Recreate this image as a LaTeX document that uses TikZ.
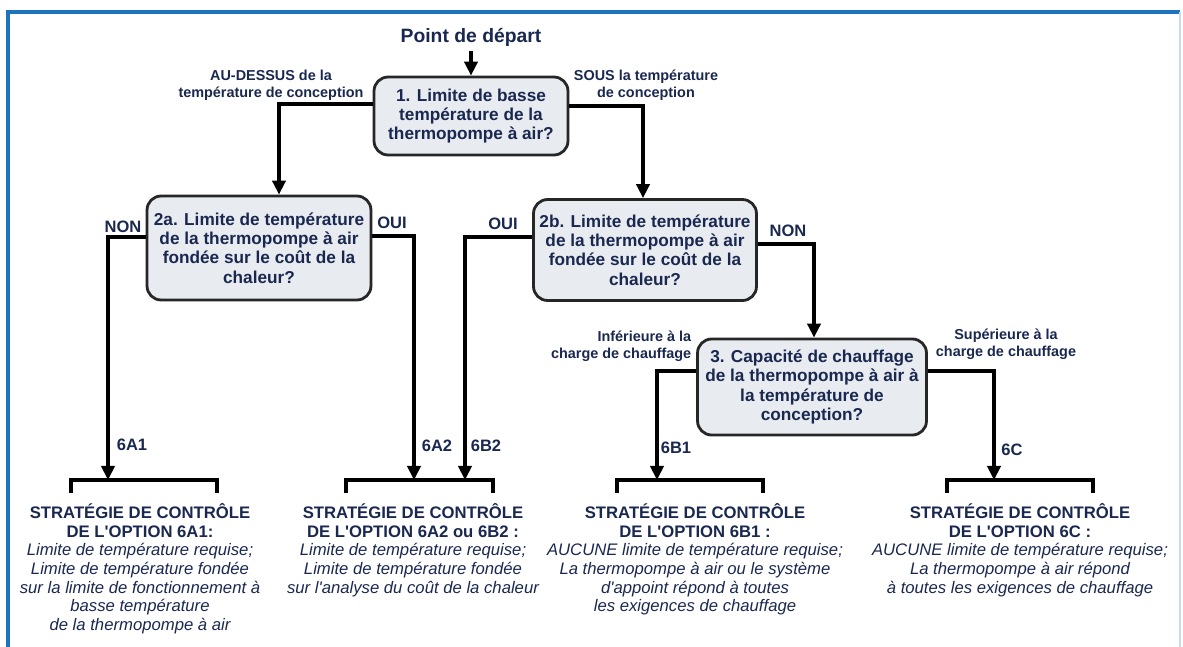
\documentclass[tikz,border=0pt]{standalone}
\usepackage{fontspec}
\setmainfont{Liberation Sans}
\usepackage{tikz}
\usetikzlibrary{arrows.meta}
\definecolor{myframe}{HTML}{1E73BE}
\definecolor{mytext}{HTML}{1A2850}
\definecolor{myfill}{HTML}{E8EBF0}

\begin{document}
\begin{tikzpicture}[x=0.02cm,y=-0.02cm,>={Triangle[length=8pt,width=7.5pt]},line width=2pt,
  question node/.style={rectangle,rounded corners=8pt,draw=black!85,line width=1.6pt,fill=myfill,
    text=mytext,font=\bfseries\fontsize{9.8}{11}\selectfont,align=center,inner sep=0pt},
  choice label/.style={text=mytext,font=\bfseries\fontsize{9.4}{11}\selectfont,inner sep=0pt},
  cond label/.style={text=mytext,font=\bfseries\fontsize{8.2}{9.6}\selectfont,align=center,inner sep=0pt},
  strategy node/.style={text=mytext,font=\fontsize{9.5}{10.6}\selectfont,align=center,anchor=north,inner sep=0pt}]

\useasboundingbox (0,0) rectangle (1183,646);

% frame
\draw[myframe,line width=1.8pt] (8,660) -- (8,12) -- (1180,12);
\draw[myframe!25,line width=0.6pt] (1180,12) -- (1180,660);

\node[text=mytext,font=\bfseries\fontsize{11}{12}\selectfont,inner sep=0pt] (start) at (471,37) {Point de départ};

\node[question node,minimum width=3.88cm,minimum height=1.56cm] (q1) at (471,116)
  {1. Limite de basse\\température de la\\thermopompe à air?};
\node[question node,minimum width=4.48cm,minimum height=2.08cm] (q2a) at (259,248)
  {2a. Limite de température\\de la thermopompe à air\\fondée sur le coût de la\\chaleur?};
\node[question node,minimum width=4.46cm,minimum height=2.02cm] (q2b) at (645,250)
  {2b. Limite de température\\de la thermopompe à air\\fondée sur le coût de la\\chaleur?};
\node[question node,minimum width=4.58cm,minimum height=1.92cm] (q3) at (812,387)
  {3. Capacité de chauffage\\de la thermopompe à air à\\la température de\\conception?};

\node[cond label] (above) at (271,85) {AU-DESSUS de la\\température de conception};
\node[cond label] (below) at (646,85) {SOUS la température\\de conception};
\node[cond label,align=right,anchor=east] (lower) at (693,346) {Inférieure à la\\charge de chauffage};
\node[cond label] (higher) at (1006,344) {Supérieure à la\\charge de chauffage};

\node[choice label] (non2a) at (123,227) {NON};
\node[choice label] (oui2a) at (392,223) {OUI};
\node[choice label] (oui2b) at (503,224) {OUI};
\node[choice label] (non2b) at (788,231) {NON};

\node[choice label] (l6A1) at (132,445) {6A1};
\node[choice label] (l6A2) at (437,446) {6A2};
\node[choice label] (l6B2) at (486,446) {6B2};
\node[choice label] (l6B1) at (676,448) {6B1};
\node[choice label] (l6C) at (1012,450) {6C};

% brackets
\foreach \l/\r in {71/217,346/493,617/763,947/1093}
  \draw (\l,493) |- (\r,480) -- (\r,493);

\coordinate (in6A1) at (108,480);
\coordinate (in6A2) at (414,480);
\coordinate (in6B2) at (465,480);
\coordinate (in6B1) at (657,480);
\coordinate (in6C) at (994,480);

\draw[->] ([yshift=-2pt]start.south) -- (q1.north);
\draw[->] ([yshift=0.24cm]q1.west) -| ([xshift=0.4cm]q2a.north);
\draw[->] ([yshift=0.2cm]q1.east) -| ([xshift=-0.04cm]q2b.north);
\draw[->] ([yshift=0.22cm]q2a.west) -| (in6A1);
\draw[->] ([yshift=0.24cm]q2a.east) -| (in6A2);
\draw[->] ([yshift=0.26cm]q2b.west) -| (in6B2);
\draw[->] ([yshift=0.12cm]q2b.east) -| ([xshift=0.04cm]q3.north);
\draw[->] ([yshift=0.32cm]q3.west) -| (in6B1);
\draw[->] ([yshift=0.32cm]q3.east) -| (in6C);

\node[strategy node] (s6A1) at (140,502) {\textbf{STRATÉGIE DE CONTRÔLE}\\\textbf{DE L\textquotesingle OPTION 6A1:}\\\itshape Limite de température requise;\\\itshape Limite de température fondée\\\itshape sur la limite de fonctionnement à\\\itshape basse température\\\itshape de la thermopompe à air};
\node[strategy node] (s6A2) at (413,502) {\textbf{STRATÉGIE DE CONTRÔLE}\\\textbf{DE L\textquotesingle OPTION 6A2 ou 6B2 :}\\\itshape Limite de température requise;\\\itshape Limite de température fondée\\\itshape sur l\textquotesingle analyse du coût de la chaleur};
\node[strategy node] (s6B1) at (695,502) {\textbf{STRATÉGIE DE CONTRÔLE}\\\textbf{DE L\textquotesingle OPTION 6B1 :}\\\itshape AUCUNE limite de température requise;\\\itshape La thermopompe à air ou le système\\\itshape d\textquotesingle appoint répond à toutes\\\itshape les exigences de chauffage};
\node[strategy node] (s6C) at (1020,502) {\textbf{STRATÉGIE DE CONTRÔLE}\\\textbf{DE L\textquotesingle OPTION 6C :}\\\itshape AUCUNE limite de température requise;\\\itshape La thermopompe à air répond\\\itshape à toutes les exigences de chauffage};

\end{tikzpicture}
\end{document}
